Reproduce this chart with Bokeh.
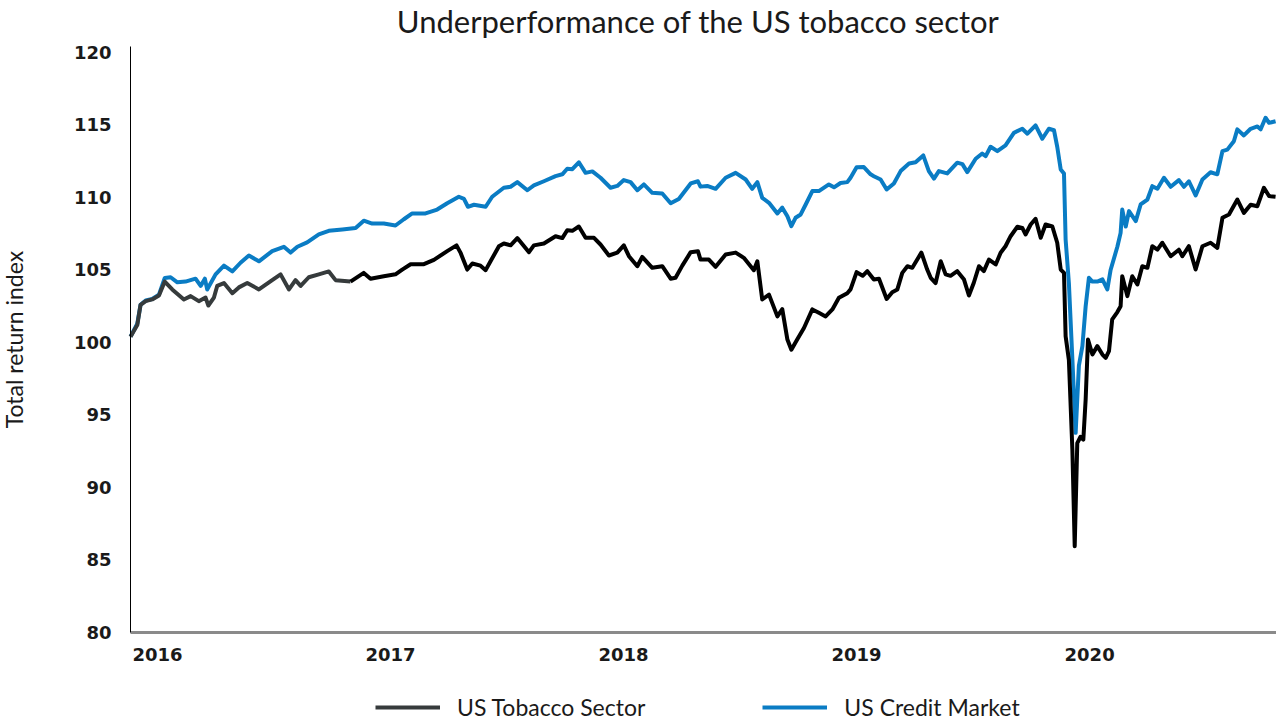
import math
from bokeh.plotting import figure
from bokeh.models import Range1d, FixedTicker, Legend, LegendItem, Label
from bokeh.embed import file_html
from bokeh.resources import INLINE

# ---- data (decimal year positions, total return index) ----
tobacco_x = [2015.884, 2015.913, 2015.927, 2015.949, 2015.977, 2016.006, 2016.031, 2016.063, 2016.113, 2016.142,
             2016.177, 2016.206, 2016.218, 2016.242, 2016.256, 2016.285, 2016.321, 2016.349, 2016.385, 2016.435,
             2016.492, 2016.528, 2016.564, 2016.592, 2016.614, 2016.649, 2016.692, 2016.735, 2016.764, 2016.828,
             2016.885, 2016.914, 2016.971, 2017.021, 2017.050, 2017.086, 2017.143, 2017.186, 2017.243, 2017.283,
             2017.300, 2017.329, 2017.351, 2017.386, 2017.408, 2017.429, 2017.465, 2017.486, 2017.515, 2017.544,
             2017.594, 2017.615, 2017.658, 2017.708, 2017.737, 2017.758, 2017.780, 2017.808, 2017.837, 2017.873,
             2017.901, 2017.937, 2017.973, 2018.001, 2018.023, 2018.059, 2018.080, 2018.123, 2018.166, 2018.202,
             2018.223, 2018.252, 2018.288, 2018.319, 2018.330, 2018.366, 2018.395, 2018.438, 2018.481, 2018.516,
             2018.559, 2018.574, 2018.595, 2018.624, 2018.660, 2018.681, 2018.703, 2018.720, 2018.745, 2018.774,
             2018.810, 2018.838, 2018.867, 2018.896, 2018.924, 2018.960, 2018.974, 2019.000, 2019.026, 2019.046,
             2019.074, 2019.096, 2019.129, 2019.153, 2019.175, 2019.196, 2019.218, 2019.239, 2019.278, 2019.303,
             2019.318, 2019.339, 2019.361, 2019.382, 2019.403, 2019.432, 2019.461, 2019.482, 2019.503, 2019.525,
             2019.546, 2019.568, 2019.597, 2019.618, 2019.639, 2019.661, 2019.690, 2019.711, 2019.725, 2019.747,
             2019.768, 2019.790, 2019.811, 2019.840, 2019.861, 2019.876, 2019.890, 2019.897, 2019.911, 2019.926,
             2019.936, 2019.947, 2019.961, 2019.973, 2019.983, 2019.993, 2020.012, 2020.033, 2020.055, 2020.069,
             2020.083, 2020.097, 2020.119, 2020.133, 2020.140, 2020.162, 2020.183, 2020.205, 2020.226, 2020.248,
             2020.269, 2020.291, 2020.312, 2020.348, 2020.383, 2020.398, 2020.426, 2020.455, 2020.484, 2020.519,
             2020.548, 2020.570, 2020.598, 2020.634, 2020.662, 2020.691, 2020.720, 2020.748, 2020.770, 2020.798]
tobacco_y = [100.4, 101.2, 102.6, 102.85, 102.97, 103.24, 104.2, 103.66, 102.97, 103.2,
             102.85, 103.1, 102.55, 103.1, 103.9, 104.1, 103.4, 103.8, 104.1, 103.66,
             104.3, 104.7, 103.66, 104.3, 103.9, 104.5, 104.7, 104.9, 104.3, 104.2,
             104.8, 104.4, 104.57, 104.7, 105.03, 105.4, 105.4, 105.7, 106.3, 106.7,
             106.2, 105.03, 105.45, 105.3, 104.99, 105.6, 106.64, 106.83, 106.7, 107.2,
             106.23, 106.7, 106.83, 107.33, 107.2, 107.74, 107.7, 108.0, 107.22, 107.22,
             106.76, 106.0, 106.2, 106.7, 105.95, 105.26, 105.9, 105.15, 105.26, 104.4,
             104.46, 105.3, 106.23, 106.3, 105.72, 105.72, 105.22, 106.07, 106.2, 105.84,
             104.99, 105.6, 102.97, 103.3, 101.8, 102.3, 100.2, 99.5, 100.2, 101.0,
             102.28, 102.05, 101.8, 102.28, 103.08, 103.4, 103.66, 104.85, 104.6, 104.92,
             104.34, 104.4, 103.0, 103.47, 103.66, 104.8, 105.26, 105.15, 106.2, 105.03,
             104.46, 104.1, 105.6, 104.7, 104.6, 104.92, 104.34, 103.24, 104.12, 105.26,
             104.92, 105.72, 105.38, 106.19, 106.64, 107.33, 107.98, 107.9, 107.45, 108.14,
             108.53, 107.22, 108.14, 108.0, 106.88, 105.03, 104.8, 100.43, 98.8, 92.6,
             85.95, 93.06, 93.5, 93.3, 96.07, 100.2, 99.17, 99.75, 99.17, 98.94,
             99.4, 101.6, 102.1, 102.5, 104.57, 103.2, 104.57, 104.0, 105.26, 105.15,
             106.64, 106.4, 106.88, 105.95, 106.4, 105.95, 106.64, 105.03, 106.64, 106.88,
             106.53, 108.6, 108.83, 109.86, 108.94, 109.5, 109.4, 110.67, 110.1, 110.05]

credit_x = [2015.884, 2015.913, 2015.927, 2015.949, 2015.977, 2016.006, 2016.031, 2016.056, 2016.085, 2016.120,
            2016.163, 2016.185, 2016.203, 2016.213, 2016.249, 2016.285, 2016.321, 2016.356, 2016.392, 2016.435,
            2016.492, 2016.542, 2016.571, 2016.600, 2016.642, 2016.692, 2016.735, 2016.793, 2016.850, 2016.885,
            2016.921, 2016.971, 2017.021, 2017.057, 2017.093, 2017.150, 2017.200, 2017.243, 2017.293, 2017.315,
            2017.332, 2017.358, 2017.408, 2017.436, 2017.486, 2017.515, 2017.544, 2017.587, 2017.615, 2017.658,
            2017.708, 2017.737, 2017.758, 2017.780, 2017.808, 2017.837, 2017.866, 2017.901, 2017.944, 2017.973,
            2018.001, 2018.030, 2018.059, 2018.087, 2018.123, 2018.166, 2018.202, 2018.237, 2018.288, 2018.319,
            2018.330, 2018.359, 2018.395, 2018.438, 2018.481, 2018.524, 2018.552, 2018.574, 2018.595, 2018.624,
            2018.660, 2018.681, 2018.703, 2018.720, 2018.738, 2018.760, 2018.781, 2018.810, 2018.838, 2018.881,
            2018.903, 2018.931, 2018.960, 2018.974, 2019.000, 2019.031, 2019.060, 2019.074, 2019.103, 2019.129,
            2019.160, 2019.189, 2019.225, 2019.253, 2019.286, 2019.310, 2019.332, 2019.353, 2019.389, 2019.432,
            2019.454, 2019.475, 2019.511, 2019.539, 2019.554, 2019.575, 2019.604, 2019.639, 2019.675, 2019.711,
            2019.733, 2019.768, 2019.797, 2019.825, 2019.847, 2019.861, 2019.876, 2019.890, 2019.897, 2019.911,
            2019.926, 2019.940, 2019.954, 2019.969, 2019.983, 2019.997, 2020.012, 2020.033, 2020.055, 2020.076,
            2020.090, 2020.119, 2020.133, 2020.140, 2020.155, 2020.169, 2020.198, 2020.219, 2020.248, 2020.269,
            2020.291, 2020.319, 2020.348, 2020.383, 2020.405, 2020.426, 2020.455, 2020.484, 2020.519, 2020.548,
            2020.570, 2020.591, 2020.619, 2020.634, 2020.662, 2020.691, 2020.720, 2020.734, 2020.755, 2020.770,
            2020.798]
credit_y = [100.4, 101.3, 102.6, 102.9, 103.0, 103.3, 104.45, 104.5, 104.15, 104.2,
            104.4, 103.9, 104.4, 103.66, 104.7, 105.3, 104.9, 105.5, 106.0, 105.6,
            106.3, 106.6, 106.2, 106.6, 106.9, 107.45, 107.7, 107.8, 107.9, 108.4,
            108.2, 108.2, 108.07, 108.5, 108.9, 108.9, 109.17, 109.6, 110.05, 109.9,
            109.36, 109.5, 109.36, 110.05, 110.67, 110.74, 111.06, 110.5, 110.83, 111.12,
            111.47, 111.6, 111.98, 111.95, 112.43, 111.7, 111.8, 111.36, 110.67, 110.8,
            111.2, 111.06, 110.5, 110.9, 110.32, 110.28, 109.6, 109.9, 110.97, 111.12,
            110.75, 110.8, 110.6, 111.36, 111.7, 111.24, 110.6, 111.06, 109.98, 109.63,
            108.9, 109.3, 108.7, 108.02, 108.6, 108.83, 109.5, 110.44, 110.44, 110.9,
            110.7, 111.0, 111.06, 111.36, 112.08, 112.1, 111.6, 111.47, 111.24, 110.55,
            110.97, 111.82, 112.34, 112.43, 112.9, 111.82, 111.3, 111.82, 111.66, 112.4,
            112.3, 111.75, 112.67, 113.03, 112.85, 113.5, 113.2, 113.59, 114.46, 114.74,
            114.4, 114.97, 114.05, 114.74, 114.64, 113.5, 111.93, 111.65, 107.1, 104.1,
            98.83, 93.77, 98.4, 99.75, 102.5, 104.46, 104.2, 104.2, 104.35, 103.66,
            105.0, 106.6, 107.56, 109.17, 108.0, 109.06, 108.37, 109.52, 109.86, 110.78,
            110.6, 111.36, 110.74, 111.2, 110.74, 111.12, 110.14, 111.24, 111.74, 111.6,
            113.2, 113.3, 113.88, 114.7, 114.28, 114.74, 114.9, 114.7, 115.5, 115.15,
            115.26]

year_ticks = [2016, 2017, 2018, 2019, 2020]
year_labels = ["2016", "2017", "2018", "2019", "2020"]
y_ticks = [80, 85, 90, 95, 100, 105, 110, 115, 120]
series_names = ["US Tobacco Sector", "US Credit Market"]
title_text = "Underperformance of the US tobacco sector"
y_title = "Total return index"

GRAY = "#363b3c"
BLACK = "#000000"
BLUE = "#0a7cc4"
TXT = "#1a1a1a"

X0, X1 = 2015.884, 2020.802          # extent of the data / x axis
Y_AXIS_LO, Y_AXIS_HI = 80, 120.4      # extent of the y axis

# the frame fills the whole canvas; the axes are pinned at fixed data positions
p = figure(width=1276, height=723, output_backend="svg", toolbar_location=None,
           x_range=Range1d(2015.326, X1), y_range=Range1d(73.724, 123.586),
           min_border_left=0, min_border_right=0, min_border_top=0, min_border_bottom=0,
           background_fill_color="white", border_fill_color="white")
p.outline_line_color = None
p.grid.visible = False

# title
p.add_layout(Label(x=2018.32, y=122.2, text=title_text, text_align="center",
                   text_baseline="alphabetic", text_font="Lato", text_font_size="31px",
                   text_color=TXT))
# y axis title
p.add_layout(Label(x=2015.386, y=100.2, text=y_title, angle=math.pi / 2, text_align="center",
                   text_baseline="middle", text_font="Lato", text_font_size="23px",
                   text_color=TXT))

# y axis, pinned at the first date
ya = p.yaxis[0]
ya.fixed_location = X0
ya.bounds = (Y_AXIS_LO, Y_AXIS_HI)
ya.ticker = FixedTicker(ticks=y_ticks)
ya.axis_line_color = "black"
ya.axis_line_width = 1
ya.major_tick_line_color = None
ya.minor_tick_line_color = None
ya.major_label_text_font = "DejaVu Sans"
ya.major_label_text_font_style = "bold"
ya.major_label_text_font_size = "18px"
ya.major_label_text_color = TXT
ya.major_label_standoff = 13

# x axis, pinned at y = 80
xa = p.xaxis[0]
xa.fixed_location = Y_AXIS_LO
xa.bounds = (X0, X1)
xa.ticker = FixedTicker(ticks=year_ticks)
xa.major_label_overrides = {t: l for t, l in zip(year_ticks, year_labels)}
xa.axis_line_color = "#8a8a8a"
xa.axis_line_width = 3
xa.major_tick_line_color = None
xa.minor_tick_line_color = None
xa.major_label_text_font = "DejaVu Sans"
xa.major_label_text_font_style = "bold"
xa.major_label_text_font_size = "18px"
xa.major_label_text_color = TXT
xa.major_label_standoff = 10

# lines
r_credit = p.line(credit_x, credit_y, line_color=BLUE, line_width=4, line_join="round")
split = next(i for i, v in enumerate(tobacco_x) if v >= 2016.828)
r_tob_a = p.line(tobacco_x[:split + 1], tobacco_y[:split + 1], line_color=GRAY, line_width=4, line_join="round")
r_tob_b = p.line(tobacco_x[split:], tobacco_y[split:], line_color=BLACK, line_width=4, line_join="round")

legend = Legend(items=[LegendItem(label=series_names[0], renderers=[r_tob_a]),
                       LegendItem(label=series_names[1], renderers=[r_credit])],
                orientation="horizontal", location=(375, 2),
                glyph_width=65, glyph_height=24, label_standoff=17, spacing=117,
                label_text_font="Lato", label_text_font_size="23px", label_text_color=TXT,
                margin=0, padding=0, background_fill_alpha=0, border_line_alpha=0)
p.add_layout(legend, "center")

open("out.html", "w").write(file_html(p, INLINE))
